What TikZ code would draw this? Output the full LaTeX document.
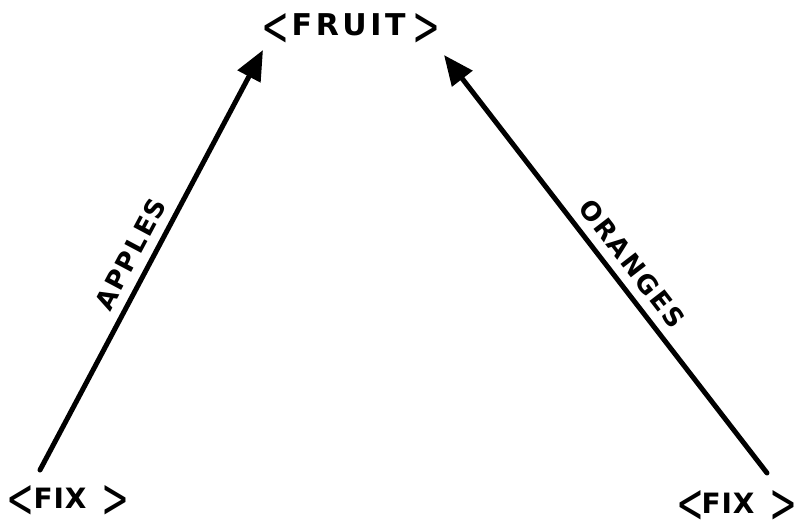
\documentclass[tikz,border=0pt]{standalone}
\usepackage{fontspec}
\usepackage{graphicx}
\setmainfont{DejaVu Sans}[BoldFont={DejaVu Sans Bold}]
\usetikzlibrary{arrows.meta}
\newcommand\lbr[1]{\raisebox{#1}{\resizebox{28pt}{32pt}{\mdseries<}}}
\newcommand\rbr[1]{\raisebox{#1}{\resizebox{28pt}{32pt}{\mdseries>}}}
\tikzset{
  big/.style={font=\bfseries\addfontfeatures{LetterSpace=12}\fontsize{30}{34}\selectfont, inner sep=0pt, anchor=base west},
  fix/.style={font=\bfseries\addfontfeatures{LetterSpace=3}\fontsize{28}{32}\selectfont, inner sep=0pt, anchor=base west},
  lab/.style={font=\bfseries\addfontfeatures{LetterSpace=8}\fontsize{26}{30}\selectfont, inner sep=0pt},
  arr/.style={line width=5pt, line cap=round, -{Triangle[length=30pt,width=25pt]}}
}
\begin{document}
\begin{tikzpicture}[x=1pt,y=-1pt]
\useasboundingbox (0,0) rectangle (812,525);
\node[big] (fruit) at (261.5,35) {\lbr{-10pt}\hspace{2pt}FRUIT\hspace{7pt}\rbr{-10pt}};
\node[fix] (fixL) at (6.5,508) {\lbr{-9pt}\hspace{-1pt}FIX\hspace{15pt}\rbr{-9pt}};
\node[fix] (fixR) at (676.5,513) {\lbr{-9pt}\hspace{-3pt}FIX\hspace{15pt}\rbr{-9pt}};
\coordinate (sL) at (40,470);
\coordinate (tL) at (263,50);
\coordinate (sR) at (767,473);
\coordinate (tR) at (444,55);
\draw[arr] (sL) -- node[lab, sloped, above=9pt, pos=0.49] (apples) {APPLES} (tL);
\draw[arr] (sR) -- node[lab, sloped, above=9pt, pos=0.47] (oranges) {ORANGES} (tR);
\end{tikzpicture}
\end{document}
